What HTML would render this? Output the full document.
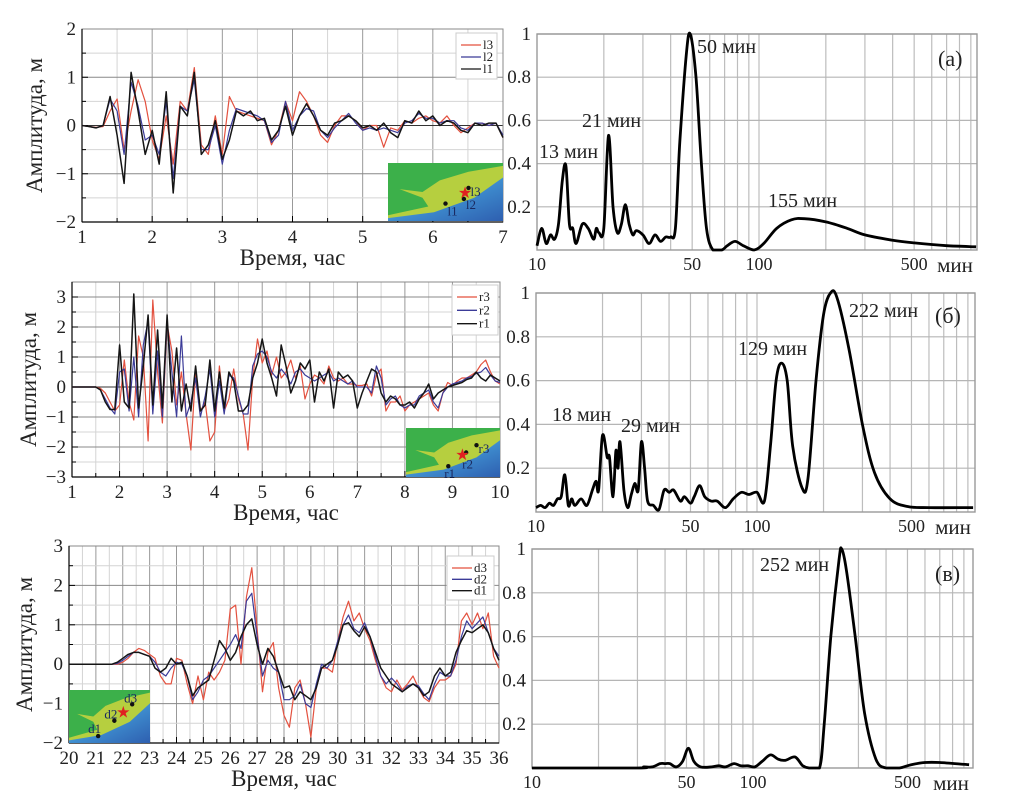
<!DOCTYPE html>
<html><head><meta charset="utf-8">
<style>
html,body{margin:0;padding:0;background:#fff;}
svg{display:block;font-family:"Liberation Serif",serif;}
</style></head>
<body>
<svg id="fig" width="1010" height="805" viewBox="0 0 1010 805" xmlns="http://www.w3.org/2000/svg">
<defs>
<linearGradient id="sea" x1="0" y1="0" x2="1" y2="1"><stop offset="0" stop-color="#8fd3ef"/><stop offset="0.5" stop-color="#3f8fd0"/><stop offset="1" stop-color="#2e5fb0"/></linearGradient>
</defs>
<g id="layer"></g>
</svg>
<script>
// ---- time series data (left panels) ----
const aStart = 1, aStep = 0.1;
const l1 = [0,-0.02,-0.05,0,0.6,-0.2,-1.2,1.1,0.3,-0.6,-0.1,-0.8,0.7,-1.4,0.4,0.2,1.1,-0.6,-0.4,0.1,-0.7,-0.3,0.3,0.2,0.3,0.1,0.15,-0.3,-0.1,0.4,-0.2,0.2,0.45,0.2,-0.1,-0.2,0.05,0.1,0.2,0.1,-0.05,0,-0.1,0.05,-0.15,-0.25,0.1,0.05,0.3,0.1,0.2,0,0.1,0.05,-0.1,-0.15,0.05,0,0.05,0.05,-0.25];
const l2 = [0,-0.02,-0.05,0,0.55,0.3,-0.6,0.9,0.4,-0.3,-0.2,-0.6,0.5,-1.1,0.4,0.3,0.95,-0.5,-0.5,0,-0.8,-0.1,0.35,0.3,0.25,0.2,0.1,-0.35,-0.2,0.5,-0.1,0.2,0.35,0.3,-0.1,-0.25,-0.05,0.1,0.25,0.05,-0.1,-0.05,-0.1,-0.05,-0.1,-0.15,0.05,0.1,0.25,0.15,0.15,0.05,0.1,0.1,-0.05,-0.1,0.05,0.05,0,0.05,-0.2];
const l3 = [0,-0.02,-0.04,-0.02,0.3,0.55,-0.5,0.3,0.95,0.5,-0.3,-0.7,0.2,-0.8,0.5,0.3,1.2,-0.4,-0.6,0.2,-0.6,0.6,0.3,0.25,0.2,0.15,0.1,-0.4,-0.1,0.5,0.1,0.7,0.5,0.2,-0.2,-0.35,0,0.2,0.2,0.1,-0.1,0,0,-0.45,-0.05,-0.1,0.1,0.05,0.15,0.2,0.1,0.05,0.2,0,-0.15,-0.05,0.05,0.05,0,0.05,-0.25];

const bStart = 1, bStep = 0.1;
const r1 = [0,0,0,0,0,0,-0.1,-0.5,-0.75,-0.75,1.4,-0.5,-0.7,3.1,-0.7,0.7,2.4,-0.6,1.9,-0.7,2.4,-0.5,1.3,-0.8,0.1,-0.8,0.7,-0.8,-0.6,0.9,-0.8,0.5,-0.7,0.5,0.2,-0.8,-0.8,-0.6,0.3,0.8,1.6,0.8,0.3,-0.3,1.4,0.7,-0.2,0.2,0.8,0.6,0.9,-0.5,0.5,0.2,0.6,-0.7,0.5,0.3,0.4,0.2,-0.7,-0.2,0.2,0.6,0.5,-0.2,-0.5,-0.3,-0.4,-0.6,-0.6,-0.5,-0.7,-0.4,-0.2,0.1,-0.4,-0.2,-0.1,0,0.05,0.1,0.15,0.25,0.3,0.5,0.3,0.2,0.4,0.3,0.2];
const r2 = [0,0,0,0,0,0,-0.1,-0.4,-0.7,-0.9,0.5,0.6,-0.8,1.0,-1.0,1.4,2.2,-0.9,1.2,-1.0,2.2,0.5,-1.0,1.7,-1.0,-0.5,0.3,-1.0,-0.3,0.6,-1.0,0.2,-0.9,0.4,0.3,-0.3,-0.9,-0.9,0.7,1.1,1.2,1.0,0.5,0.3,0.6,0.4,0.1,0.5,0.6,0.4,0.3,0.2,0.3,0.4,0.5,0.2,0.3,0.2,0.1,0.2,0,0,0,-0.2,0.7,0.3,-0.6,-0.4,-0.3,-0.6,-0.7,-0.6,-0.6,-0.3,-0.2,-0.1,-0.5,-0.7,-0.2,0,0.1,0.15,0.2,0.3,0.35,0.45,0.5,0.65,0.4,0.2,0.15];
const r3 = [0,0,0,0,0,0,-0.05,-0.2,-0.5,-0.8,-0.6,0.9,-0.5,-1.1,1.7,1.0,-1.8,2.9,0.5,-1.2,2.1,1.2,-0.6,0.5,-0.9,-2.1,0.5,-0.8,-0.5,-1.8,-1.5,0.7,-0.8,-0.4,0.6,-0.4,-0.9,-2.1,0.3,1.6,0.8,1.2,0.4,1.0,0.3,0.5,0.9,0.3,0.7,-0.4,0.1,0.4,0.3,0.1,0.7,0.3,0.2,0.3,0.1,0.1,0.05,0.05,0.1,-0.3,0.4,0.6,-0.8,-0.5,-0.5,-0.3,-0.8,-0.6,-0.5,-0.4,-0.3,-0.2,-0.6,-0.8,-0.2,0.15,0.05,0.2,0.3,0.3,0.4,0.5,0.75,0.9,0.5,0.2,0.1];

const cStart = 20, cStep = 0.2;
const d1 = [0,0,0,0,0,0,0,0,0,0.05,0.15,0.25,0.3,0.3,0.25,0.2,-0.1,-0.2,-0.1,0.15,0,0.05,-0.3,-0.8,-0.6,-0.5,-0.4,0.1,0.6,0.4,0.1,0.3,0.7,1.0,1.15,0.5,0,0.4,0.2,-0.2,-0.6,-0.55,-0.9,-0.7,-0.8,-0.9,-0.6,-0.1,0,0.1,0.5,1.0,1.05,0.85,0.7,0.95,0.7,0.3,-0.1,-0.3,-0.5,-0.6,-0.7,-0.6,-0.5,-0.6,-0.8,-0.7,-0.3,-0.1,-0.3,-0.2,0.3,0.6,0.85,0.8,0.9,1.0,0.8,0.4,0.1];
const d2 = [0,0,0,0,0,0,0,0,0,0.02,0.1,0.2,0.3,0.3,0.25,0.2,0.05,-0.2,-0.3,-0.1,0.05,0,-0.3,-0.9,-0.7,-0.4,-0.3,-0.1,0.1,0.3,0.5,0.75,0.4,1.6,1.8,0.7,-0.3,0.1,-0.1,-0.2,-0.9,-0.9,-0.8,-0.5,-1.0,-1.1,-0.5,0,-0.1,0.1,0.6,1.0,1.25,0.9,0.8,1.05,0.7,0.2,-0.3,-0.5,-0.35,-0.5,-0.7,-0.55,-0.5,-0.55,-0.75,-0.9,-0.5,-0.2,-0.3,-0.3,0.1,0.7,1.1,0.9,1.05,1.2,0.8,0.4,0.2];
const d3 = [0,0,0,0,0,0,0,0,0,0,0.05,0.15,0.3,0.4,0.35,0.25,0.15,-0.3,-0.5,-0.5,0.15,0.1,-0.5,-1.0,-0.3,-0.9,-0.2,-0.4,-0.2,0.1,1.4,1.5,0,1.7,2.45,0.9,-0.7,0.3,0.55,-0.6,-1.3,-1.6,-0.6,-0.4,-1.0,-1.85,-0.6,-0.1,-0.1,-0.2,0.6,1.2,1.6,1.1,1.3,0.9,0.6,0.1,-0.3,-0.6,-0.7,-0.4,-0.65,-0.5,-0.3,-0.6,-0.85,-0.95,-0.6,-0.4,-0.4,-0.3,0,1.1,1.3,1.0,1.3,0.9,1.3,0.2,-0.1];

// ---- spectra data (right panels) ----
const specAPeriod = [10,10.5,11,11.5,12,12.5,13,13.5,14,14.5,15,16,17,18,18.5,19,20,21,22,23,24,25,26,27,28,30,32,34,36,38,40,42,44,47,49,52,55,58,62,68,72,78,85,95,105,120,140,160,200,250,300,400,500,700,950];
const specAAmp = [0.02,0.1,0.03,0.07,0.05,0.12,0.32,0.39,0.12,0.1,0.03,0.12,0.1,0.05,0.1,0.08,0.1,0.53,0.2,0.08,0.12,0.21,0.12,0.07,0.09,0.07,0.03,0.07,0.04,0.06,0.06,0.1,0.5,0.9,1.0,0.8,0.4,0.1,0,0,0.02,0.04,0.02,0,0.03,0.1,0.14,0.145,0.13,0.1,0.07,0.045,0.033,0.02,0.015];
const specBPeriod = [10,10.5,11,11.5,12,12.5,13,13.5,14,14.5,15,16,17,18,18.7,19.2,20,21,21.5,22.3,23,23.5,24,25,26,27,28,29,30,31,32,34,36,38,40,42,45,47,50,52,55,58,62,66,72,78,85,92,100,108,115,122,129,137,145,160,170,185,200,215,230,260,300,340,400,480,600,950];
const specBAmp = [0.02,0.03,0.02,0.04,0.03,0.06,0.07,0.17,0.03,0.06,0.03,0.06,0.03,0.1,0.14,0.1,0.35,0.25,0.25,0.07,0.28,0.2,0.32,0.1,0.02,0.08,0.13,0.1,0.32,0.2,0.05,0.03,0.01,0.1,0.09,0.1,0.05,0.07,0.04,0.07,0.12,0.07,0.05,0.05,0.02,0.06,0.09,0.08,0.09,0.05,0.3,0.6,0.68,0.6,0.3,0.11,0.15,0.6,0.9,1.0,0.98,0.75,0.4,0.18,0.06,0.025,0.02,0.02];
const specCPeriod = [10,30,32,35,38,40,42,45,48,51,54,58,65,70,75,82,88,95,102,110,120,130,140,155,168,180,200,210,225,245,252,265,290,320,360,400,460,520,600,700,950];
const specCAmp = [0,0,0.005,0.005,0.02,0.02,0.02,0.005,0.03,0.09,0.03,0.005,0.005,0.01,0.005,0.02,0.01,0.01,0.005,0.03,0.06,0.04,0.035,0.05,0.01,0,0,0.2,0.6,0.95,1.0,0.9,0.6,0.25,0.04,0,0,0.015,0.025,0.025,0.015];

const xTicksA = [1,2,3,4,5,6,7];
const xTicksB = [1,2,3,4,5,6,7,8,9,10];
const xTicksC = [20,21,22,23,24,25,26,27,28,29,30,31,32,33,34,35,36];
const yTicksA = [-2,-1,0,1,2];
const yTicksB = [-3,-2,-1,0,1,2,3];
const yTicksC = [-2,-1,0,1,2,3];
const specYTicks = [0.2,0.4,0.6,0.8,1];
const specYLabels = ["0.2","0.4","0.6","0.8","1"];
const specXLabels = [10,50,100,500];

const NS = "http://www.w3.org/2000/svg";
const root = document.getElementById('layer');
function mk(tag, attrs, parent, txt){
  const e = document.createElementNS(NS, tag);
  for (const k in attrs) e.setAttribute(k, attrs[k]);
  if (txt !== undefined) e.textContent = txt;
  (parent || root).appendChild(e);
  return e;
}
const RED="#e3513f", BLUE="#3b3b98", BLK="#151515";

function timePanel(cfg){
  const g = mk('g', {});
  
  
  const X = t => cfg.x0 + (t - cfg.t0)/(cfg.t1 - cfg.t0)*(cfg.x1 - cfg.x0);
  const Y = v => cfg.yTop + (cfg.vMax - v)/(cfg.vMax - cfg.vMin)*(cfg.yBot - cfg.yTop);
  for (let t = cfg.t0; t <= cfg.t1 + 1e-9; t += 0.5){
    const major = Math.abs(t - Math.round(t)) < 1e-6;
    mk('line',{x1:X(t),x2:X(t),y1:cfg.yTop,y2:cfg.yBot,stroke:major?'#999':'#d4d4d4','stroke-width':1},g);
    mk('line',{x1:X(t),x2:X(t),y1:cfg.yBot,y2:cfg.yBot-(major?6:4),stroke:'#000','stroke-width':1},g);
  }
  for (let v = cfg.vMin; v <= cfg.vMax + 1e-9; v += 0.5){
    const major = Math.abs(v - Math.round(v)) < 1e-6;
    mk('line',{x1:cfg.x0,x2:cfg.x1,y1:Y(v),y2:Y(v),stroke:major?(v===0?'#333':'#888'):'#d4d4d4','stroke-width':1},g);
    mk('line',{x1:cfg.x0,x2:cfg.x0+(major?6:4),y1:Y(v),y2:Y(v),stroke:'#000','stroke-width':1},g);
  }
  mk('rect',{x:cfg.x0,y:cfg.yTop,width:cfg.x1-cfg.x0,height:cfg.yBot-cfg.yTop,fill:'none',stroke:'#888','stroke-width':1},g);
  mk('line',{x1:cfg.x0,x2:cfg.x0,y1:cfg.yTop,y2:cfg.yBot,stroke:'#000','stroke-width':1.2},g);
  mk('line',{x1:cfg.x0,x2:cfg.x1,y1:cfg.yBot,y2:cfg.yBot,stroke:'#000','stroke-width':1.2},g);
  cfg.yTicks.forEach(v=>{
    const t = mk('text',{x:cfg.x0-6,y:Y(v)+6,'font-size':19,'text-anchor':'end',fill:'#222'},g,(v<0?'−':'')+Math.abs(v));
    
    
  });
  cfg.xTicks.forEach(v=>{
    const t = mk('text',{x:X(v),y:cfg.yBot+21,'font-size':19,'text-anchor':'middle',fill:'#222'},g,String(v));
    
    
  });
  const xt = mk('text',{x:(cfg.x0+cfg.x1)/2,y:cfg.yBot+43,'font-size':23,'text-anchor':'middle',fill:'#222'},g,'Время, час');
  
  
  const yc = (cfg.yTop+cfg.yBot)/2;
  const yt = mk('text',{x:cfg.ytx,y:yc,'font-size':23,'text-anchor':'middle',fill:'#222',transform:`rotate(-90 ${cfg.ytx} ${yc})`},g,'Амплитуда, м');
  
  
  const colors=[RED,BLUE,BLK];
  cfg.series.forEach((s,k)=>{
    const pts = s.map((v,i)=>X(cfg.start+i*cfg.step).toFixed(1)+','+Y(v).toFixed(1)).join(' ');
    const p = mk('polyline',{points:pts,fill:'none',stroke:colors[k],'stroke-width':k===2?1.5:1.2,'stroke-linejoin':'round'},g);
    
    
  });
  const L = cfg.legend;
  const lg = mk('g',{},g);
  
  
  mk('rect',{x:L.x,y:L.y,width:L.w,height:L.h,fill:'#fff',stroke:'#ccc','stroke-width':1},lg);
  cfg.labels.forEach((lab,k)=>{
    const yy = L.y+12+k*(L.h-10)/3;
    mk('line',{x1:L.x+5,x2:L.x+25,y1:yy,y2:yy,stroke:colors[k],'stroke-width':1.3},lg);
    const t = mk('text',{x:L.x+27,y:yy+4,'font-size':13,fill:'#222'},lg,lab);
    
    
  });
  const M = cfg.map;
  const mg = mk('g',{},g);
  
  
  mk('rect',{x:M.x,y:M.y,width:M.w,height:M.h,fill:'#3cb04a'},mg);
  const P = (fx,fy)=>(M.x+fx*M.w).toFixed(1)+','+(M.y+fy*M.h).toFixed(1);
  mk('polygon',{points:[P(0.1,0.45),P(0.3,0.5),P(0.45,0.3),P(0.7,0.15),P(1,0.05),P(1,0.5),P(0.7,0.85),P(0.3,1),P(0,1),P(0,0.9),P(0.35,0.75),P(0.3,0.6)].join(' '),fill:'#b6cf3f'},mg);
  mk('polygon',{points:[P(1,0.25),P(1,1),P(0,1),P(0,0.95),P(0.4,0.85),P(0.75,0.6)].join(' '),fill:'url(#sea)'},mg);
  M.marks.forEach(m=>{
    mk('circle',{cx:M.x+m[0]*M.w,cy:M.y+m[1]*M.h,r:2.2,fill:'#111'},mg);
    mk('text',{x:M.x+m[0]*M.w+m[3],y:M.y+m[1]*M.h+m[4],'font-size':13,fill:'#1a2a60'},mg,m[2]);
  });
  mk('text',{x:M.x+M.star[0]*M.w,y:M.y+M.star[1]*M.h+5,'font-size':16,'text-anchor':'middle',fill:'#e02020'},mg,'★');
}

timePanel({name:'panel-a-timeseries',x0:82,x1:503,t0:1,t1:7,yTop:29,yBot:222,vMin:-2,vMax:2,start:aStart,step:aStep,
  series:[l3,l2,l1],labels:['l3','l2','l1'],xTicks:xTicksA,yTicks:yTicksA,ytx:42,
  legend:{x:456,y:33,w:41,h:46},
  map:{x:388,y:163,w:115,h:58,star:[0.67,0.52],marks:[[0.7,0.43,'l3',2,8],[0.66,0.62,'l2',2,10],[0.5,0.7,'l1',2,12]]}});
timePanel({name:'panel-b-timeseries',x0:72,x1:500,t0:1,t1:10,yTop:282,yBot:477,vMin:-3,vMax:3.5,start:bStart,step:bStep,
  series:[r3,r2,r1],labels:['r3','r2','r1'],xTicks:xTicksB,yTicks:yTicksB,ytx:36,
  legend:{x:452,y:285,w:46,h:50},
  map:{x:406,y:428,w:94,h:49,star:[0.6,0.55],marks:[[0.75,0.35,'r3',2,8],[0.64,0.5,'r2',-4,16],[0.45,0.78,'r1',-4,12]]}});
timePanel({name:'panel-c-timeseries',x0:69,x1:499,t0:20,t1:36,yTop:546,yBot:743,vMin:-2,vMax:3,start:cStart,step:cStep,
  series:[d3,d2,d1],labels:['d3','d2','d1'],xTicks:xTicksC,yTicks:yTicksC,ytx:32,
  legend:{x:447,y:556,w:47,h:44},
  map:{x:69,y:690,w:81,h:53,star:[0.67,0.42],marks:[[0.78,0.27,'d3',-8,-2],[0.56,0.58,'d2',-10,-2],[0.36,0.87,'d1',-10,-3]]}});

function specPanel(cfg){
  const g = mk('g',{});
  
  
  const X = p => cfg.x0 + (Math.log10(p)-1)*cfg.dec;
  const Y = v => cfg.y0 - v*(cfg.y0-cfg.y1);
  const pmax = Math.pow(10, 1+(cfg.x1-cfg.x0)/cfg.dec);
  for (let d=10; d<=1000; d*=10){
    for (let m=1; m<10; m++){
      const p = d*m;
      if (p<=10 || p>=pmax) continue;
      mk('line',{x1:X(p),x2:X(p),y1:cfg.y1,y2:cfg.y0,stroke:'#bdbdbd','stroke-width':1.2},g);
    }
  }
  specYTicks.forEach(v=>mk('line',{x1:cfg.x0,x2:cfg.x1,y1:Y(v),y2:Y(v),stroke:'#b5b5b5','stroke-width':1.2},g));
  mk('rect',{x:cfg.x0,y:cfg.y1,width:cfg.x1-cfg.x0,height:cfg.y0-cfg.y1,fill:'none',stroke:'#999','stroke-width':1.4},g);
  specYTicks.forEach((v,i)=>{
    const t = mk('text',{x:cfg.x0-6,y:Y(v)+6,'font-size':19,'text-anchor':'end',fill:'#222'},g,specYLabels[i]);
    
    
  });
  specXLabels.forEach(p=>{
    const t = mk('text',{x:X(p),y:cfg.y0+20,'font-size':18,'text-anchor':'middle',fill:'#222'},g,String(p));
    
    
  });
  const u = mk('text',{x:cfg.x1-22,y:cfg.y0+22,'font-size':21,'text-anchor':'middle',fill:'#222'},g,'мин');
  
  
  const pts = cfg.per.map((p,i)=>[X(p),Y(cfg.amp[i])]);
  let d = 'M'+pts[0][0].toFixed(1)+','+pts[0][1].toFixed(1);
  for (let i=0;i<pts.length-1;i++){
    const p0=pts[Math.max(0,i-1)],p1=pts[i],p2=pts[i+1],p3=pts[Math.min(pts.length-1,i+2)];
    let c1y=p1[1]+(p2[1]-p0[1])/6, c2y=p2[1]-(p3[1]-p1[1])/6;
    c1y=Math.min(c1y,cfg.y0); c2y=Math.min(c2y,cfg.y0);
    d+=' C'+(p1[0]+(p2[0]-p0[0])/6).toFixed(1)+','+c1y.toFixed(1)+' '+(p2[0]-(p3[0]-p1[0])/6).toFixed(1)+','+c2y.toFixed(1)+' '+p2[0].toFixed(1)+','+p2[1].toFixed(1);
  }
  const path = mk('path',{d:d,fill:'none',stroke:'#000','stroke-width':2.8,'stroke-linejoin':'round'},g);
  
  
  cfg.notes.forEach(n=>{
    const t = mk('text',{x:n[0],y:n[1],'font-size':20,fill:'#222'},g,n[2]);
    
    
  });
  const pl = mk('text',{x:cfg.tag[0],y:cfg.tag[1],'font-size':22,fill:'#222'},g,cfg.tag[2]);
  
  
}
specPanel({name:'panel-a-spectrum',x0:537,x1:977,dec:222,y0:250,y1:34,per:specAPeriod,amp:specAAmp,
  notes:[[539,158,'13 мин'],[582,127,'21 мин'],[697,53,'50 мин'],[768,207,'155 мин']],tag:[938,66,'(a)']});
specPanel({name:'panel-b-spectrum',x0:536,x1:975,dec:221,y0:512,y1:293,per:specBPeriod,amp:specBAmp,
  notes:[[552,421,'18 мин'],[621,432,'29 мин'],[738,355,'129 мин'],[849,317,'222 мин']],tag:[935,323,'(б)']});
specPanel({name:'panel-c-spectrum',x0:532,x1:973,dec:221,y0:768,y1:549,per:specCPeriod,amp:specCAmp,
  notes:[[760,571,'252 мин']],tag:[935,581,'(в)']});
</script>
</body></html>
